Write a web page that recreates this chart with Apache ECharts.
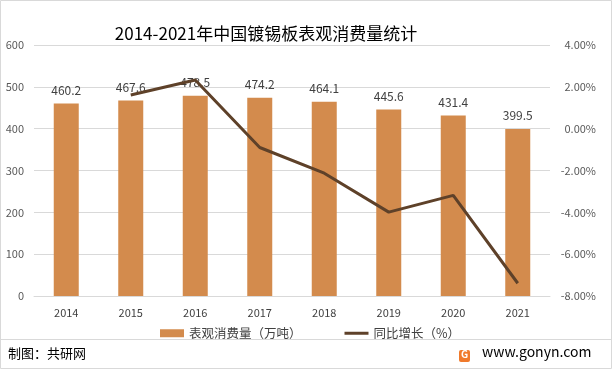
<!DOCTYPE html>
<html><head><meta charset="utf-8">
<script src="https://cdn.jsdelivr.net/npm/echarts@6/dist/echarts.min.js"></script>
<style>html,body{margin:0;padding:0;background:#fff}#c{width:612px;height:369px}</style>
</head><body><div id="c"></div>
<script>
const title = '2014-2021年中国镀锡板表观消费量统计';
const categories = ['2014','2015','2016','2017','2018','2019','2020','2021'];
const consumption = [460.2, 467.6, 478.5, 474.2, 464.1, 445.6, 431.4, 399.5];
const growth = [null, 1.61, 2.33, -0.90, -2.13, -3.99, -3.19, -7.39];
const leftTicks = [0, 100, 600];
const rightTicks = [-8, 2, 4];
const barName = '表观消费量（万吨）';
const lineName = '同比增长（%）';
const footerLeft = '制图：共研网';
const footerRight = 'www.gonyn.com';

const font = '"Noto Sans CJK SC", "Noto Sans", sans-serif';
const chart = echarts.init(document.getElementById('c'));
chart.setOption({
  animation: false,
  textStyle: {fontFamily: font},
  title: {text: title, left: 261, top: 20, textAlign: 'center',
    textStyle: {fontSize: 17, fontWeight: 'normal', color: '#000', fontFamily: font}},
  legend: {
    top: 322, left: 155, itemGap: 43, itemWidth: 24, itemHeight: 8,
    textStyle: {fontSize: 12.5, color: '#404040', fontFamily: font},
    data: [{name: barName, icon: 'rect'},
      {name: lineName, icon: 'path://M0,0M0,8M0,2.5L24,2.5L24,5.5L0,5.5Z'}]
  },
  grid: {left: 34, right: 62, top: 45, bottom: 73},
  xAxis: {type: 'category', data: categories,
    axisLine: {lineStyle: {color: '#d9d9d9'}}, axisTick: {show: false},
    axisLabel: {fontSize: 11, color: '#404040', margin: 11}},
  yAxis: [
    {type: 'value', min: leftTicks[0], max: leftTicks[2], interval: leftTicks[1],
      axisLabel: {fontSize: 11, color: '#595959', margin: 10},
      splitLine: {lineStyle: {color: '#d9d9d9'}}},
    {type: 'value', min: rightTicks[0], max: rightTicks[2], interval: rightTicks[1],
      axisLabel: {fontSize: 11, color: '#595959', align: 'right', margin: 46,
        formatter: v => v.toFixed(2) + '%'},
      splitLine: {show: false}}
  ],
  series: [
    {name: barName, type: 'bar', data: consumption, barWidth: 25,
      itemStyle: {color: '#D38B4D'},
      label: {show: true, position: 'top', distance: 7, fontSize: 12, color: '#404040',
        formatter: p => p.value.toFixed(1)}},
    {name: lineName, type: 'line', yAxisIndex: 1, data: growth,
      symbol: 'none', lineStyle: {color: '#5E4129', width: 3}, itemStyle: {color: '#5E4129'}}
  ],
  graphic: [
    {type: 'rect', shape: {x: 0.5, y: 0.5, width: 611, height: 368},
      style: {fill: 'none', stroke: '#d9d9d9', lineWidth: 1}, silent: true},
    {type: 'line', shape: {x1: 1, y1: 339.5, x2: 611, y2: 339.5},
      style: {stroke: '#d9d9d9', lineWidth: 1}},
    {type: 'text', left: 8, top: 347,
      style: {text: footerLeft, fontSize: 13, fill: '#000', fontFamily: font}},
    {type: 'rect', shape: {x: 459, y: 350, width: 11, height: 12, r: 2},
      style: {fill: '#F07A2C'}},
    {type: 'text', left: 461, top: 349,
      style: {text: 'G', fontSize: 10, fontWeight: 'bold', fill: '#fff', fontFamily: font}},
    {type: 'text', left: 482, top: 345,
      style: {text: footerRight, fontSize: 14, fill: '#000', fontFamily: font}}
  ]
});
</script></body></html>
